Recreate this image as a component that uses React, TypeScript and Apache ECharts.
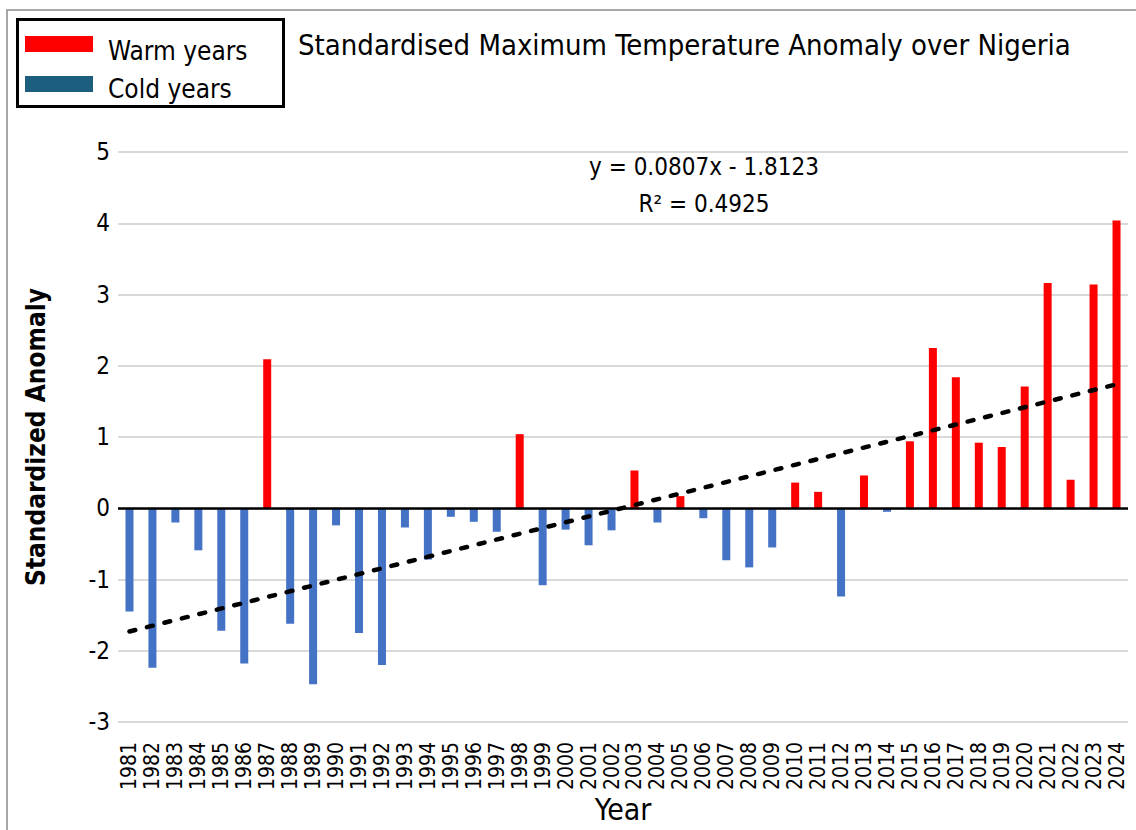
import React, { useEffect, useRef } from "react";
import * as echarts from "echarts";

const years = [
  "1981", "1982", "1983", "1984", "1985", "1986", "1987", "1988", "1989", "1990",
  "1991", "1992", "1993", "1994", "1995", "1996", "1997", "1998", "1999", "2000",
  "2001", "2002", "2003", "2004", "2005", "2006", "2007", "2008", "2009", "2010",
  "2011", "2012", "2013", "2014", "2015", "2016", "2017", "2018", "2019", "2020",
  "2021", "2022", "2023", "2024",
];

const anomalies = [
  -1.45, -2.24, -0.2, -0.59, -1.72, -2.18, 2.09, -1.62, -2.47, -0.24,
  -1.75, -2.2, -0.27, -0.72, -0.12, -0.19, -0.33, 1.04, -1.08, -0.3,
  -0.52, -0.31, 0.53, -0.2, 0.17, -0.14, -0.73, -0.83, -0.55, 0.36,
  0.23, -1.24, 0.46, -0.05, 0.94, 2.25, 1.84, 0.92, 0.86, 1.71,
  3.16, 0.4, 3.14, 4.04,
];

// trend line end points (first and last year)
const trendYears = ["1981", "2024"];
const trendValues = [-1.73, 1.74];

const yTicks = { min: -3, max: 5, interval: 1 };

const equationText = "y = 0.0807x - 1.8123";
const r2Text = "R² = 0.4925";
const titleText = "Standardised Maximum Temperature Anomaly over Nigeria";
const legendLabels = ["Warm years", "Cold years"];

const WARM = "#FF0000";
const COLD = "#4472C4";
const COLD_LEGEND = "#1B5E7E";
const FONT = "'DejaVu Sans Condensed', 'Liberation Sans Narrow', 'Noto Sans', sans-serif";

export default function App() {
  const ref = useRef<HTMLDivElement>(null);
  useEffect(() => {
    document.body.style.margin = "0";
    const chart = echarts.init(ref.current!, null, { renderer: "svg" });
    const option: any = {
      animation: false,
      backgroundColor: "#ffffff",
      textStyle: { fontFamily: FONT },
      grid: {
        left: 118,
        right: 8,
        top: 152,
        bottom: 108,
        containLabel: false,
        outerBoundsMode: "none",
      },
      xAxis: {
        type: "category",
        data: years,
        name: "Year",
        nameLocation: "middle",
        nameGap: 72,
        nameMoveOverlap: false,
        nameTextStyle: { fontSize: 30, color: "#000", fontFamily: FONT },
        axisLine: { show: false },
        axisTick: { show: false },
        axisLabel: {
          rotate: 90,
          interval: 0,
          fontSize: 21,
          color: "#000",
          margin: 20,
          fontFamily: FONT,
        },
      },
      yAxis: {
        type: "value",
        min: yTicks.min,
        max: yTicks.max,
        interval: yTicks.interval,
        name: "Standardized Anomaly",
        nameLocation: "middle",
        nameGap: 69,
        nameMoveOverlap: false,
        nameTextStyle: { fontSize: 26, color: "#000", fontWeight: "bold", fontFamily: FONT },
        axisLine: { show: false },
        axisTick: { show: false },
        axisLabel: { fontSize: 24, color: "#000", margin: 8, fontFamily: FONT },
        splitLine: { lineStyle: { color: "#D9D9D9", width: 2 } },
      },
      series: [
        {
          type: "bar",
          data: anomalies.map((v) => ({
            value: v,
            itemStyle: { color: v >= 0 ? WARM : COLD },
          })),
          barWidth: 8,
          markLine: {
            silent: true,
            symbol: "none",
            label: { show: false },
            lineStyle: { color: "#000", width: 2.5, type: "solid" },
            data: [{ yAxis: 0 }],
          },
          z: 2,
        },
        {
          type: "line",
          data: trendYears.map((y, i) => [y, trendValues[i]]),
          symbol: "none",
          lineStyle: { color: "#000", width: 4.5, type: [6, 12], cap: "round" },
          z: 3,
        },
      ],
      graphic: [
        {
          type: "rect",
          shape: { x: 7, y: 10, width: 1140, height: 830 },
          style: { fill: "none", stroke: "#8C8C8C", lineWidth: 1.5 },
          silent: true,
        },
        {
          type: "rect",
          shape: { x: 17.5, y: 19.5, width: 266, height: 87 },
          style: { fill: "#fff", stroke: "#000", lineWidth: 3 },
        },
        {
          type: "rect",
          shape: { x: 25, y: 36, width: 68, height: 16 },
          style: { fill: WARM },
        },
        {
          type: "rect",
          shape: { x: 25, y: 76, width: 68, height: 16 },
          style: { fill: COLD_LEGEND },
        },
        {
          type: "text",
          x: 108,
          y: 51,
          style: {
            text: legendLabels[0],
            font: `26px ${FONT}`,
            fill: "#000",
            verticalAlign: "middle",
          },
        },
        {
          type: "text",
          x: 108,
          y: 89,
          style: {
            text: legendLabels[1],
            font: `26px ${FONT}`,
            fill: "#000",
            verticalAlign: "middle",
          },
        },
        {
          type: "text",
          x: 298,
          y: 45,
          style: {
            text: titleText,
            font: `29px ${FONT}`,
            fill: "#000",
            verticalAlign: "middle",
          },
        },
        {
          type: "text",
          x: 704,
          y: 167,
          style: {
            text: equationText,
            font: `24px ${FONT}`,
            fill: "#000",
            align: "center",
            verticalAlign: "middle",
          },
        },
        {
          type: "text",
          x: 704,
          y: 204,
          style: {
            text: r2Text,
            font: `24px ${FONT}`,
            fill: "#000",
            align: "center",
            verticalAlign: "middle",
          },
        },
      ],
    };
    chart.setOption(option);
    return () => chart.dispose();
  }, []);
  return (
    <div
      ref={ref}
      style={{ position: "absolute", left: 0, top: 0, width: 1136, height: 830 }}
    />
  );
}
